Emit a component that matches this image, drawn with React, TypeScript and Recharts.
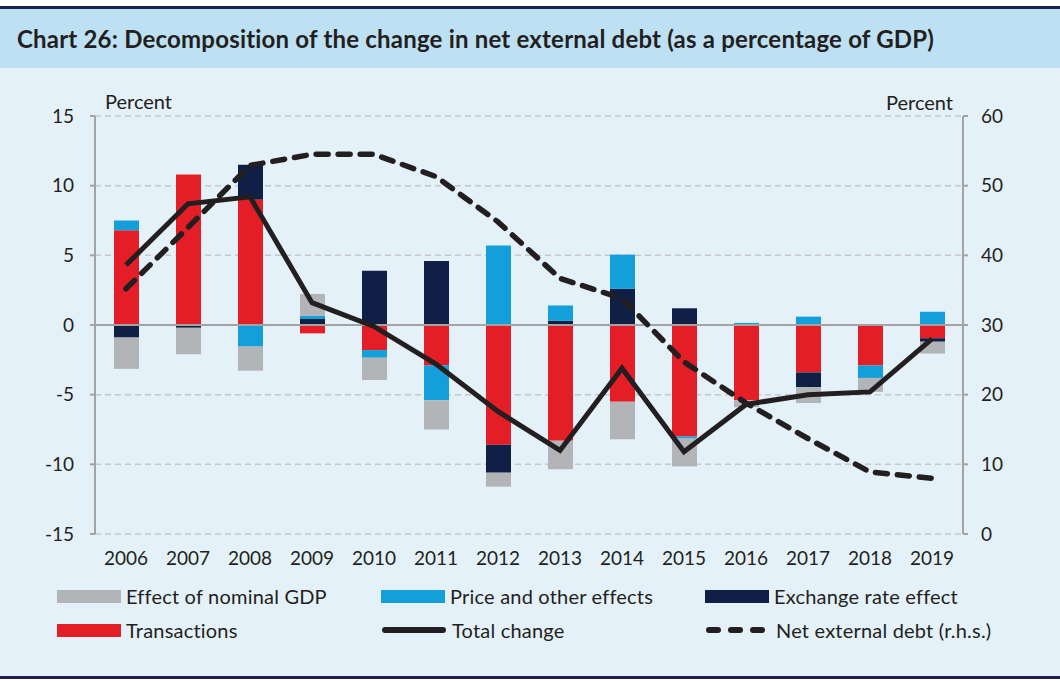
import React from "react";
import {
  ComposedChart,
  Bar,
  Line,
  XAxis,
  YAxis,
  CartesianGrid,
  ReferenceLine,
} from "recharts";

const years = ["2006", "2007", "2008", "2009", "2010", "2011", "2012", "2013", "2014", "2015", "2016", "2017", "2018", "2019"];
const transactions = [6.8, 10.8, 9.0, -0.6, -1.8, -2.9, -8.6, -8.3, -5.5, -8.0, -5.4, -3.4, -2.9, -0.95];
const exchangeRate = [-0.9, -0.2, 2.5, 0.43, 3.9, 4.6, -2.0, 0.3, 2.6, 1.2, 0, -1.05, 0, -0.25];
const priceOther = [0.7, 0, -1.55, 0.24, -0.55, -2.5, 5.7, 1.1, 2.45, -0.15, 0.15, 0.6, -0.9, 0.95];
const nominalGdp = [-2.25, -1.9, -1.73, 1.56, -1.6, -2.1, -1.0, -2.05, -2.7, -2.0, -0.5, -1.15, -1.0, -0.85];
const totalChange = [4.3, 8.7, 9.2, 1.6, -0.1, -2.8, -6.2, -9.0, -3.1, -9.1, -5.7, -5.0, -4.8, -1.0];
const netDebt = [35.2, 44.0, 52.9, 54.5, 54.5, 51.3, 44.8, 36.7, 33.8, 24.7, 18.8, 13.7, 8.9, 8.0];

const leftTicks = [-15, -10, -5, 0, 5, 10, 15];
const rightTicks = [0, 10, 20, 30, 40, 50, 60];

const data = years.map((year, i) => ({
  year,
  transactions: transactions[i],
  exchangeRate: exchangeRate[i],
  priceOther: priceOther[i],
  nominalGdp: nominalGdp[i],
  totalChange: totalChange[i],
  netDebt: netDebt[i],
}));

const FONT = "Lato, 'Open Sans', sans-serif";
const TEXT = "#231f20";
const GRAY = "#b3b4b7";
const BLUE = "#139fd9";
const NAVY = "#0f1f45";
const RED = "#e31e26";
const AXIS = "#a3a3a3";

function Swatch({ color }: { color: string }) {
  return <div style={{ width: 64, height: 13, background: color }} />;
}

function LineKey({ dashed }: { dashed?: boolean }) {
  return (
    <svg width={66} height={14}>
      <line
        x1={4}
        y1={7}
        x2={62}
        y2={7}
        stroke={TEXT}
        strokeWidth={6}
        strokeLinecap="round"
        strokeDasharray={dashed ? "9 13" : undefined}
      />
    </svg>
  );
}

const legendRows = [
  [
    { label: "Effect of nominal GDP", key: <Swatch color={GRAY} /> },
    { label: "Price and other effects", key: <Swatch color={BLUE} /> },
    { label: "Exchange rate effect", key: <Swatch color={NAVY} /> },
  ],
  [
    { label: "Transactions", key: <Swatch color={RED} /> },
    { label: "Total change", key: <LineKey /> },
    { label: "Net external debt (r.h.s.)", key: <LineKey dashed /> },
  ],
];
const legendCols = [57, 381, 705];

export default function App() {
  return (
    <div
      style={{
        position: "fixed",
        left: 0,
        top: 0,
        width: 1060,
        height: 682,
        background: "#fff",
        fontFamily: FONT,
        color: TEXT,
      }}
    >
      <div style={{ position: "absolute", left: 0, top: 6, width: 1060, height: 3, background: "#1c2150" }} />
      <div
        style={{
          position: "absolute",
          left: 0,
          top: 9,
          width: 1060,
          height: 59,
          background: "#bde0f3",
        }}
      >
        <div
          style={{
            position: "absolute",
            left: 17,
            top: 15,
            fontSize: 24,
            fontWeight: 700,
            letterSpacing: 0.2,
            whiteSpace: "nowrap",
          }}
        >
          Chart 26: Decomposition of the change in net external debt (as a percentage of GDP)
        </div>
      </div>
      <div style={{ position: "absolute", left: 0, top: 68, width: 1060, height: 608, background: "#e4f1f8" }} />
      <div style={{ position: "absolute", left: 0, top: 676, width: 1060, height: 3, background: "#1c2150" }} />

      <div style={{ position: "absolute", left: 0, top: 0 }}>
        <ComposedChart
          width={1060}
          height={600}
          data={data}
          stackOffset="sign"
          margin={{ top: 116, right: 57, left: 55, bottom: 36 }}
        >
          <CartesianGrid
            yAxisId="left"
            vertical={false}
            stroke="#c6c8ca"
            strokeDasharray="6 4"
            strokeWidth={1.5}
          />
          <XAxis
            dataKey="year"
            axisLine={false}
            tickLine={false}
            tickMargin={12}
            height={30}
            tick={{ fontSize: 19, fill: TEXT, fontFamily: FONT }}
          />
          <YAxis
            yAxisId="left"
            domain={[-15, 15]}
            ticks={leftTicks}
            width={40}
            axisLine={{ stroke: AXIS, strokeWidth: 2 }}
            tickLine={{ stroke: AXIS, strokeWidth: 2 }}
            tickSize={5}
            tickMargin={16}
            tick={{ fontSize: 19, fill: TEXT, fontFamily: FONT }}
          />
          <YAxis
            yAxisId="right"
            orientation="right"
            domain={[0, 60]}
            ticks={rightTicks}
            width={40}
            axisLine={{ stroke: AXIS, strokeWidth: 2 }}
            tickLine={{ stroke: AXIS, strokeWidth: 2 }}
            tickSize={5}
            tickMargin={13}
            tick={{ fontSize: 19, fill: TEXT, fontFamily: FONT }}
          />
          <ReferenceLine yAxisId="left" y={0} stroke={AXIS} strokeWidth={2} />
          <Bar yAxisId="left" dataKey="transactions" stackId="a" fill={RED} barSize={25} isAnimationActive={false} />
          <Bar yAxisId="left" dataKey="exchangeRate" stackId="a" fill={NAVY} barSize={25} isAnimationActive={false} />
          <Bar yAxisId="left" dataKey="priceOther" stackId="a" fill={BLUE} barSize={25} isAnimationActive={false} />
          <Bar yAxisId="left" dataKey="nominalGdp" stackId="a" fill={GRAY} barSize={25} isAnimationActive={false} />
          <Line
            yAxisId="left"
            dataKey="totalChange"
            stroke={TEXT}
            strokeWidth={5}
            dot={false}
            strokeLinejoin="miter"
            isAnimationActive={false}
          />
          <Line
            yAxisId="right"
            dataKey="netDebt"
            stroke={TEXT}
            strokeWidth={5.5}
            strokeDasharray="12 10"
            strokeLinecap="round"
            dot={false}
            isAnimationActive={false}
          />
        </ComposedChart>
      </div>

      <div style={{ position: "absolute", left: 105, top: 89, fontSize: 20 }}>Percent</div>
      <div style={{ position: "absolute", right: 1060 - 953, top: 90, fontSize: 20 }}>Percent</div>

      {legendRows.map((row, r) =>
        row.map((item, c) => (
          <div
            key={`${r}-${c}`}
            style={{
              position: "absolute",
              left: legendCols[c],
              top: 584 + r * 34,
              height: 24,
              display: "flex",
              alignItems: "center",
              gap: 5,
              fontSize: 20,
              letterSpacing: 0.2,
              whiteSpace: "nowrap",
            }}
          >
            {item.key}
            <span>{item.label}</span>
          </div>
        ))
      )}
    </div>
  );
}
